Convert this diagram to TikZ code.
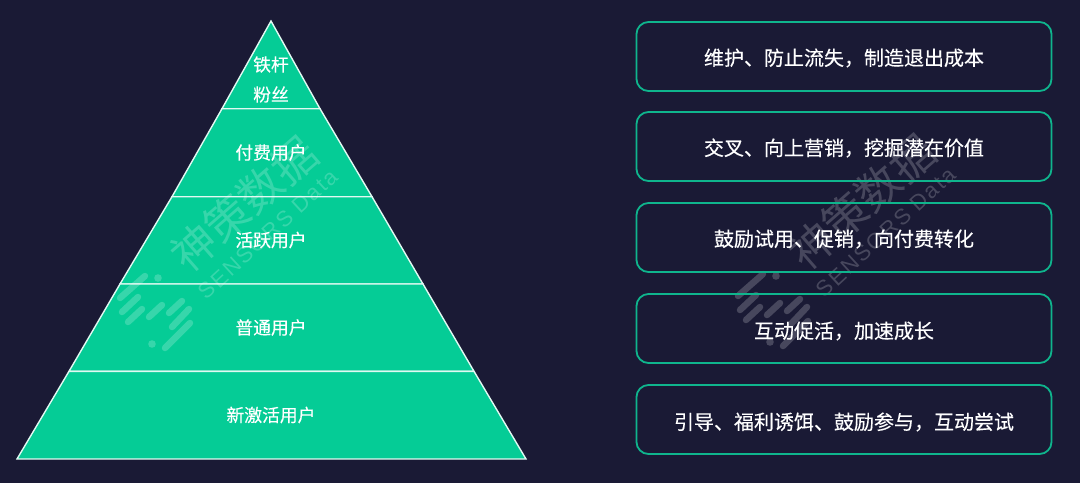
\documentclass[tikz,border=0pt]{standalone}
\usepackage{fontspec}
\setmainfont{Noto Sans CJK SC}
\newfontfamily\medcjk[FakeBold=0.25]{Noto Sans CJK SC}
\newfontfamily\wmlatin[LetterSpace=9]{Liberation Sans}
\definecolor{bgc}{HTML}{1A1A35}
\definecolor{greenc}{HTML}{05CC96}
\definecolor{strokec}{HTML}{0FB58D}
\tikzset{
  band/.style={fill=greenc,draw=white!88!greenc,line width=1.4pt,line join=miter},
  tierlabel/.style={text=white,font=\medcjk\fontsize{17.8pt}{30pt}\selectfont,align=center,inner sep=0pt},
  actionbox/.style={draw=strokec,line width=1.8pt,rounded corners=12pt,minimum width=415pt,minimum height=69pt,inner sep=0pt},
  actiontext/.style={text=white,font=\medcjk\fontsize{20pt}{24pt}\selectfont,inner sep=0pt},
  wmstrip/.style={line width=6.5pt,line cap=round,draw=white,opacity=.2},
  wmdot/.style={fill=white,opacity=.2},
  wmtext/.style={text=white,text opacity=.2,inner sep=0pt}
}
\newcommand{\watermark}[2]{%
\begin{scope}[shift={(#1,#2)}]
  \draw[wmstrip] (120,298) -- (145,276);
  \draw[wmstrip] (122,312) -- (138,297);
  \draw[wmstrip] (128,322) -- (142,309);
  \draw[wmstrip] (149,317) -- (162,305);
  \draw[wmstrip] (169,313) -- (182,301);
  \draw[wmstrip] (172,327) -- (189,309);
  \draw[wmstrip] (165,348) -- (190,323);
  \fill[wmdot] (158,278) circle (3.8);
  \fill[wmdot] (152,344) circle (3.8);
  \node[wmtext,rotate=41,font=\fontsize{44pt}{44pt}\selectfont] at (244,204) {神策数据};
  \node[wmtext,rotate=42.5,font=\wmlatin\fontsize{22pt}{22pt}\selectfont] at (268,234) {SENSORS Data};
\end{scope}}
\begin{document}
\begin{tikzpicture}[x=1pt,y=-1pt]
\useasboundingbox (0,0) rectangle (1080,483);
\fill[bgc] (0,0) rectangle (1080,483);
% pyramid bands
\path[band] (271,21) -- (222,108.7) -- (320,108.7) -- cycle;
\path[band] (222,108.7) -- (172,196.7) -- (372,196.7) -- (320,108.7) -- cycle;
\path[band] (172,196.7) -- (120,284) -- (423,284) -- (372,196.7) -- cycle;
\path[band] (120,284) -- (69,371.3) -- (474,371.3) -- (423,284) -- cycle;
\path[band] (69,371.3) -- (17,459) -- (526,459) -- (474,371.3) -- cycle;
% watermarks
\watermark{0}{0}
\watermark{618}{-2}
% labels
\node[tierlabel] (t1) at (271,79.5) {铁杆\\粉丝};
\node[tierlabel] (t2) at (271,152.5) {付费用户};
\node[tierlabel] (t3) at (271,240) {活跃用户};
\node[tierlabel] (t4) at (271,327.5) {普通用户};
\node[tierlabel] (t5) at (271,415) {新激活用户};
% action boxes
\node[actionbox] (a1) at (844,56.5) {};
\node[actionbox] (a2) at (844,146.5) {};
\node[actionbox] (a3) at (844,237.5) {};
\node[actionbox] (a4) at (844,328.5) {};
\node[actionbox] (a5) at (844,419.5) {};
\node[actiontext] (x1) at (844,58) {维护、防止流失，制造退出成本};
\node[actiontext] (x2) at (844,148) {交叉、向上营销，挖掘潜在价值};
\node[actiontext] (x3) at (844,239) {鼓励试用、促销，向付费转化};
\node[actiontext] (x4) at (844,331) {互动促活，加速成长};
\node[actiontext] (x5) at (844,422) {引导、福利诱饵、鼓励参与，互动尝试};
\end{tikzpicture}
\end{document}
